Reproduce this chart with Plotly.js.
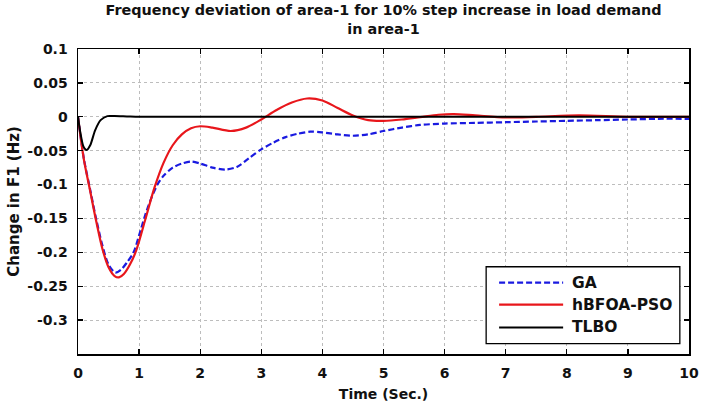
<!DOCTYPE html>
<html>
<head>
<meta charset="utf-8">
<script src="https://cdn.plot.ly/plotly-3.0.1.min.js"></script>
<style>
  html, body { margin: 0; padding: 0; background: #fff; }
  #chart { width: 702px; height: 402px; }
</style>
</head>
<body>
<div id="chart"></div>
<script>
// Frequency deviation of area-1 (Hz) versus time (s) for each controller tuning method
const gaTime = [0, 0.05, 0.1, 0.2, 0.3, 0.4, 0.5, 0.61, 0.7, 0.8, 0.91, 1.0, 1.1, 1.2, 1.3, 1.4, 1.55, 1.7, 1.85, 2.0, 2.2, 2.41, 2.6, 2.8, 3.0, 3.2, 3.4, 3.6, 3.8, 4.0, 4.25, 4.5, 4.75, 5.0, 5.3, 5.6, 6.0, 6.5, 7.0, 7.5, 8.0, 8.5, 9.0, 9.5, 10];
const gaDf   = [0, -0.034, -0.064, -0.108, -0.152, -0.19, -0.218, -0.23, -0.226, -0.215, -0.2, -0.175, -0.145, -0.12, -0.1, -0.087, -0.075, -0.069, -0.066, -0.069, -0.075, -0.078, -0.074, -0.061, -0.048, -0.038, -0.030, -0.025, -0.022, -0.023, -0.026, -0.028, -0.026, -0.021, -0.016, -0.012, -0.010, -0.009, -0.008, -0.007, -0.006, -0.005, -0.004, -0.003, -0.003];

const psoTime = [0, 0.05, 0.1, 0.2, 0.3, 0.4, 0.5, 0.6, 0.67, 0.75, 0.85, 0.95, 1.1, 1.25, 1.4, 1.55, 1.7, 1.85, 2.0, 2.2, 2.5, 2.75, 3.0, 3.25, 3.5, 3.75, 4.0, 4.25, 4.5, 4.75, 5.0, 5.3, 5.6, 5.9, 6.15, 6.5, 7.0, 7.5, 8.2, 9.0, 10];
const psoDf   = [0, -0.035, -0.065, -0.11, -0.155, -0.195, -0.222, -0.235, -0.237, -0.232, -0.218, -0.198, -0.152, -0.105, -0.068, -0.042, -0.026, -0.017, -0.014, -0.016, -0.021, -0.016, -0.004, 0.010, 0.021, 0.027, 0.024, 0.013, 0.002, -0.005, -0.006, -0.004, -0.0005, 0.003, 0.004, 0.002, -0.001, 0.000, 0.002, 0.0, 0.0];

const tlboTime = [0, 0.04, 0.09, 0.14, 0.2, 0.28, 0.37, 0.48, 0.6, 0.8, 1.0, 1.5, 2, 3, 4, 5, 6, 7, 8, 9, 10];
const tlboDf   = [0, -0.024, -0.044, -0.049, -0.042, -0.02, -0.005, 0.001, 0.001, 0.0005, 0, 0, 0, 0, 0, 0, 0, 0, 0, 0, 0];

const seriesNames = ['GA', 'hBFOA-PSO', 'TLBO'];

const xTicks = [0, 1, 2, 3, 4, 5, 6, 7, 8, 9, 10];
const yTicks = [0.1, 0.05, 0, -0.05, -0.1, -0.15, -0.2, -0.25, -0.3];
const yTickLabels = ['0.1', '0.05', '0', '-0.05', '-0.1', '-0.15', '-0.2', '-0.25', '-0.3'];

const FONT = 'DejaVu Sans, Verdana, sans-serif';
const INK = '#111';

const lineStyles = [
  { color: '#1a1ae0', width: 2.2, dash: '6px,3px' },
  { color: '#e8161b', width: 2.2, dash: 'solid' },
  { color: '#000000', width: 2, dash: 'solid' }
];

const seriesX = [gaTime, psoTime, tlboTime];
const seriesY = [gaDf, psoDf, tlboDf];

const traces = seriesNames.map((name, i) => ({
  x: seriesX[i], y: seriesY[i], name: name, type: 'scatter', mode: 'lines',
  line: Object.assign({ shape: 'spline', smoothing: 0.8 }, lineStyles[i])
}));

// Boxed legend in the lower-right corner, with long line samples
const legBox = { x0: 0.668, x1: 0.985, y0: 0.034, y1: 0.286 };
const legRowY = [0.234, 0.162, 0.087];
const legLineX = [0.6892, 0.794];
const legTextX = 0.805;

const shapes = [{
  type: 'rect', xref: 'paper', yref: 'paper',
  x0: legBox.x0, x1: legBox.x1, y0: legBox.y0, y1: legBox.y1,
  fillcolor: '#fff', line: { color: '#000', width: 1.3 }, layer: 'above'
}];
const annotations = [];
seriesNames.forEach((name, i) => {
  shapes.push({
    type: 'line', xref: 'paper', yref: 'paper',
    x0: legLineX[0], x1: legLineX[1], y0: legRowY[i], y1: legRowY[i],
    line: { color: lineStyles[i].color, width: lineStyles[i].width, dash: lineStyles[i].dash },
    layer: 'above'
  });
  annotations.push({
    xref: 'paper', yref: 'paper', x: legTextX, y: legRowY[i],
    xanchor: 'left', yanchor: 'middle', showarrow: false, text: name,
    font: { family: FONT, size: 15.5, color: INK, weight: 'bold' }
  });
});

const axisCommon = {
  showline: true, linecolor: '#000', linewidth: 1.5, mirror: 'ticks',
  ticks: 'inside', ticklen: 5, tickcolor: '#000', tickwidth: 1.3,
  showgrid: true, gridcolor: '#bdbdbd', gridwidth: 1, griddash: 'dot',
  zeroline: false,
  tickfont: { family: FONT, size: 14, color: INK, weight: 'bold' }
};

const layout = {
  width: 702, height: 402,
  paper_bgcolor: '#fff', plot_bgcolor: '#fff',
  margin: { l: 77.5, r: 13, t: 49, b: 47.5 },
  showlegend: false,
  title: {
    text: 'Frequency deviation of area-1 for 10% step increase in load demand<br>in area-1',
    font: { family: FONT, size: 14.4, color: INK, weight: 'bold' },
    x: 0.5, xref: 'paper', xanchor: 'center',
    y: 0.963, yref: 'container', yanchor: 'top'
  },
  xaxis: Object.assign({}, axisCommon, {
    range: [0, 10], tickvals: xTicks, ticklabelstandoff: 6,
    title: { text: 'Time (Sec.)', standoff: 10,
             font: { family: FONT, size: 14, color: INK, weight: 'bold' } }
  }),
  yaxis: Object.assign({}, axisCommon, {
    range: [-0.35, 0.1], tickvals: yTicks, ticktext: yTickLabels, ticklabelstandoff: 6,
    title: { text: 'Change in F1 (Hz)', standoff: 4,
             font: { family: FONT, size: 15, color: INK, weight: 'bold' } }
  }),
  shapes: shapes,
  annotations: annotations
};

Plotly.newPlot('chart', traces, layout, { staticPlot: true, displayModeBar: false });
</script>
</body>
</html>
